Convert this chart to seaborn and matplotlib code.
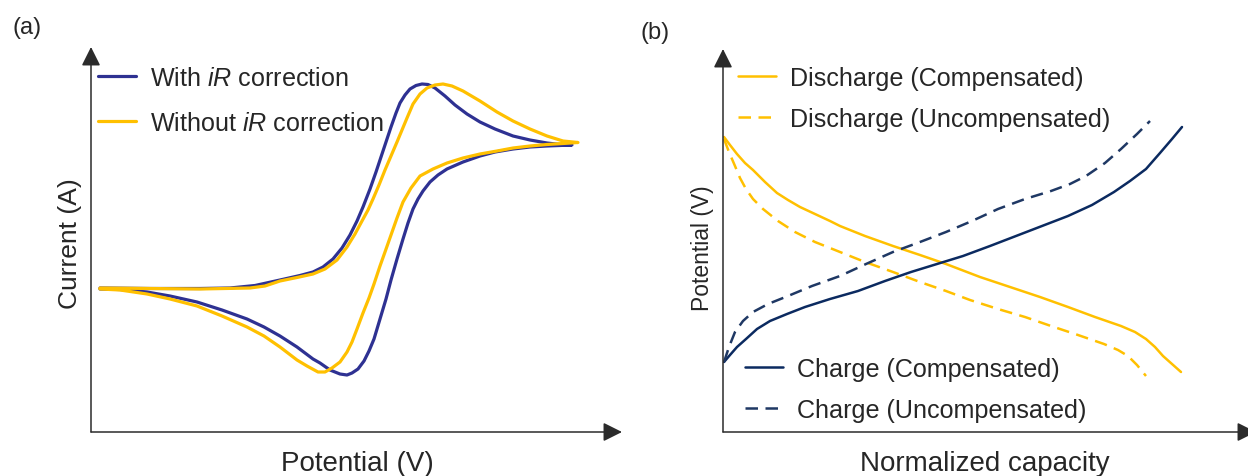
import numpy as np
import pandas as pd
import matplotlib
matplotlib.use("Agg")
import matplotlib.pyplot as plt
import seaborn as sns

# ---- panel (a): cyclic voltammograms (arbitrary units)
cv_with_x = [9, 59, 109, 139, 164, 189, 209, 222, 232, 242, 251, 259, 266, 272, 279, 285, 290, 295,
             300, 305, 309, 314, 319, 325, 331, 337, 344, 354, 364, 376, 389, 404, 422, 439, 456, 469, 481,
             456, 439, 422, 404, 389, 372, 356, 347, 339, 332, 327, 322, 317, 312, 306, 300, 295, 289,
             283, 278, 273, 267, 261, 256, 249, 239, 229, 222, 206, 189, 173, 156, 131, 106, 79, 56, 29, 9]
cv_with_y = [144, 143.5, 143.5, 144, 146.5, 152, 156.5, 160, 165, 173, 184, 197, 211, 225, 243, 260, 275, 290,
             305, 319, 329, 337, 343, 346.5, 348, 347.5, 344, 336, 327, 318, 310, 303, 296, 292, 289, 287.5, 287,
             286, 285, 283, 280, 276, 270, 263, 257, 250, 241, 233, 223, 209, 193, 173, 152, 133, 113,
             93, 81, 71, 63, 59, 57, 58, 62, 69, 73, 85, 96, 105, 113, 122, 130, 136, 140, 142.5, 143]

cv_without_x = [9, 59, 109, 159, 174, 189, 206, 222, 234, 246, 256, 264, 271, 277, 282, 288, 294, 300,
                306, 311, 316, 322, 329, 336, 344, 352, 361, 372, 389, 406, 422, 439, 456, 472, 487,
                472, 456, 439, 422, 406, 389, 372, 356, 342, 329, 320, 312, 306, 300, 294, 289, 283, 278,
                272, 266, 261, 256, 249, 241, 234, 227, 216, 206, 189, 173, 156, 131, 106, 79, 56, 29, 9]
cv_without_y = [144, 143.5, 143, 144, 146, 151, 154.5, 158, 163, 172, 185, 198, 211, 222, 233, 247, 262, 276,
                290, 302, 314, 328, 338, 344, 347, 348, 346, 341, 331, 320, 311, 303, 296, 291, 289.5,
                288.5, 287.5, 286, 284, 281, 278, 274, 269, 263, 256, 244, 230, 214, 197, 180, 166, 148, 134,
                119, 103, 90, 80, 70, 64, 60, 60, 66, 72, 85, 96, 105, 116, 126, 133, 138, 142, 143]

# ---- panel (b): charge / discharge profiles
dis_comp_x = [1, 7, 14, 22, 30, 42, 54, 65, 77, 92, 107, 117, 142, 170, 197, 223, 257, 293, 317, 345,
              372, 398, 412, 423, 432, 440, 449, 458]
dis_comp_y = [295, 287, 278, 269, 262, 250, 239, 232, 225, 218, 211, 206, 196, 186, 177, 168, 155, 143,
              135, 125, 115, 106, 100, 93, 85, 76, 68, 60]

dis_unc_x = [1, 6, 12, 17, 23, 30, 40, 55, 72, 92, 117, 142, 170, 197, 223, 247, 275, 302, 328, 355,
             381, 395, 405, 414, 423]
dis_unc_y = [293, 280, 266, 254, 243, 233, 223, 211, 200, 190, 180, 170, 160, 150, 141, 132, 123, 115,
             106, 97, 88, 82, 76, 67, 56]

chg_comp_x = [1, 7, 14, 23, 34, 47, 64, 82, 107, 135, 162, 188, 214, 240, 267, 293, 319, 345, 369, 391,
              407, 423, 437, 449, 459]
chg_comp_y = [70, 77, 85, 93, 103, 111, 118, 125, 133, 141, 151, 160, 168, 176, 186, 196, 206, 216, 227,
              240, 251, 263, 279, 293, 305]

chg_unc_x = [1, 6, 12, 20, 30, 45, 65, 89, 117, 143, 170, 197, 223, 249, 275, 302, 328, 347, 363, 382,
             398, 414, 427]
chg_unc_y = [70, 85, 100, 111, 120, 128, 136, 146, 156, 168, 180, 190, 200, 211, 223, 233, 241, 248, 256,
             269, 283, 298, 311]

sns.set_style("white")
plt.rcParams["font.family"] = ["Liberation Sans", "DejaVu Sans"]
plt.rcParams["mathtext.fontset"] = "custom"
plt.rcParams["mathtext.rm"] = "Liberation Sans"
plt.rcParams["mathtext.it"] = "Liberation Sans:italic"

W, H = 1248, 477
fig = plt.figure(figsize=(W / 100, H / 100), dpi=100)

def px_axes(x0, y0, x1, y1):
    # axes from origin (x0, y0) to arrow tips (x1, y1), in picture pixels
    return fig.add_axes([x0 / W, (H - y0) / H, (x1 - x0) / W, (y0 - y1) / H])

def arrows(ax):
    for tip in [(1, 0), (0, 1)]:
        ax.annotate("", xy=tip, xytext=(0, 0), xycoords="axes fraction", textcoords="axes fraction",
                    arrowprops=dict(arrowstyle="-|>,head_length=0.8,head_width=0.4", mutation_scale=14.4,
                                    lw=1.1, color="#2b2b2b", shrinkA=0, shrinkB=0),
                    annotation_clip=False)
    ax.set_xticks([])
    ax.set_yticks([])
    sns.despine(ax=ax, left=True, bottom=True)

blue_a = "#2e3192"
yellow = "#ffc000"
navy = "#0b2a60"
navy2 = "#1f3864"

leg_kw = dict(bbox_transform=fig.transFigure, frameon=False, fontsize=18.1, handlelength=1.5,
              handletextpad=0.55, borderpad=0, borderaxespad=0, loc="upper left")

# (a)
ax1 = px_axes(91, 433, 622, 48)
sns.lineplot(x=cv_with_x, y=cv_with_y, sort=False, estimator=None, color=blue_a, lw=2.3, ax=ax1,
             label=r"With $\mathit{iR}$ correction")
sns.lineplot(x=cv_without_x, y=cv_without_y, sort=False, estimator=None, color=yellow, lw=2.3, ax=ax1,
             label=r"Without $\mathit{iR}$ correction")
ax1.set_xlim(0, 531)
ax1.set_ylim(0, 385)
arrows(ax1)
h1 = ax1.get_lines()
ax1.legend(handles=[h1[0], h1[1]], bbox_to_anchor=(98 / W, (H - 67) / H), labelspacing=0.83, **leg_kw)

# (b)
ax2 = px_axes(723, 433, 1256, 50)
sns.lineplot(x=dis_comp_x, y=dis_comp_y, sort=False, estimator=None, color=yellow, lw=1.8, ax=ax2,
             label="Discharge (Compensated)")
sns.lineplot(x=dis_unc_x, y=dis_unc_y, sort=False, estimator=None, color=yellow, lw=1.8, ax=ax2,
             linestyle=(0, (5, 3)), label="Discharge (Uncompensated)")
sns.lineplot(x=chg_comp_x, y=chg_comp_y, sort=False, estimator=None, color=navy, lw=1.8, ax=ax2,
             label="Charge (Compensated)")
sns.lineplot(x=chg_unc_x, y=chg_unc_y, sort=False, estimator=None, color=navy2, lw=1.8, ax=ax2,
             linestyle=(0, (5, 3)), label="Charge (Uncompensated)")
ax2.set_xlim(0, 533)
ax2.set_ylim(0, 383)
arrows(ax2)
h2 = ax2.get_lines()
leg_d = ax2.legend(handles=[h2[0], h2[1]], bbox_to_anchor=(738 / W, (H - 67) / H), labelspacing=0.67, **leg_kw)
ax2.add_artist(leg_d)
ax2.legend(handles=[h2[2], h2[3]], bbox_to_anchor=(745 / W, (H - 358) / H), labelspacing=0.67, **leg_kw)

# labels
fig.text(27 / W, (H - 28) / H, "(a)", fontsize=17, ha="center", va="center")
fig.text(655 / W, (H - 33) / H, "(b)", fontsize=17, ha="center", va="center")
fig.text(357 / W, (H - 464) / H, "Potential (V)", fontsize=20, ha="center", va="center")
fig.text(70 / W, (H - 244) / H, "Current (A)", fontsize=19, ha="center", va="center", rotation=90)
fig.text(985 / W, (H - 464) / H, "Normalized capacity", fontsize=20, ha="center", va="center")
fig.text(703 / W, (H - 248) / H, "Potential (V)", fontsize=16.5, ha="center", va="center", rotation=90)

fig.savefig("out.png", dpi=100)
